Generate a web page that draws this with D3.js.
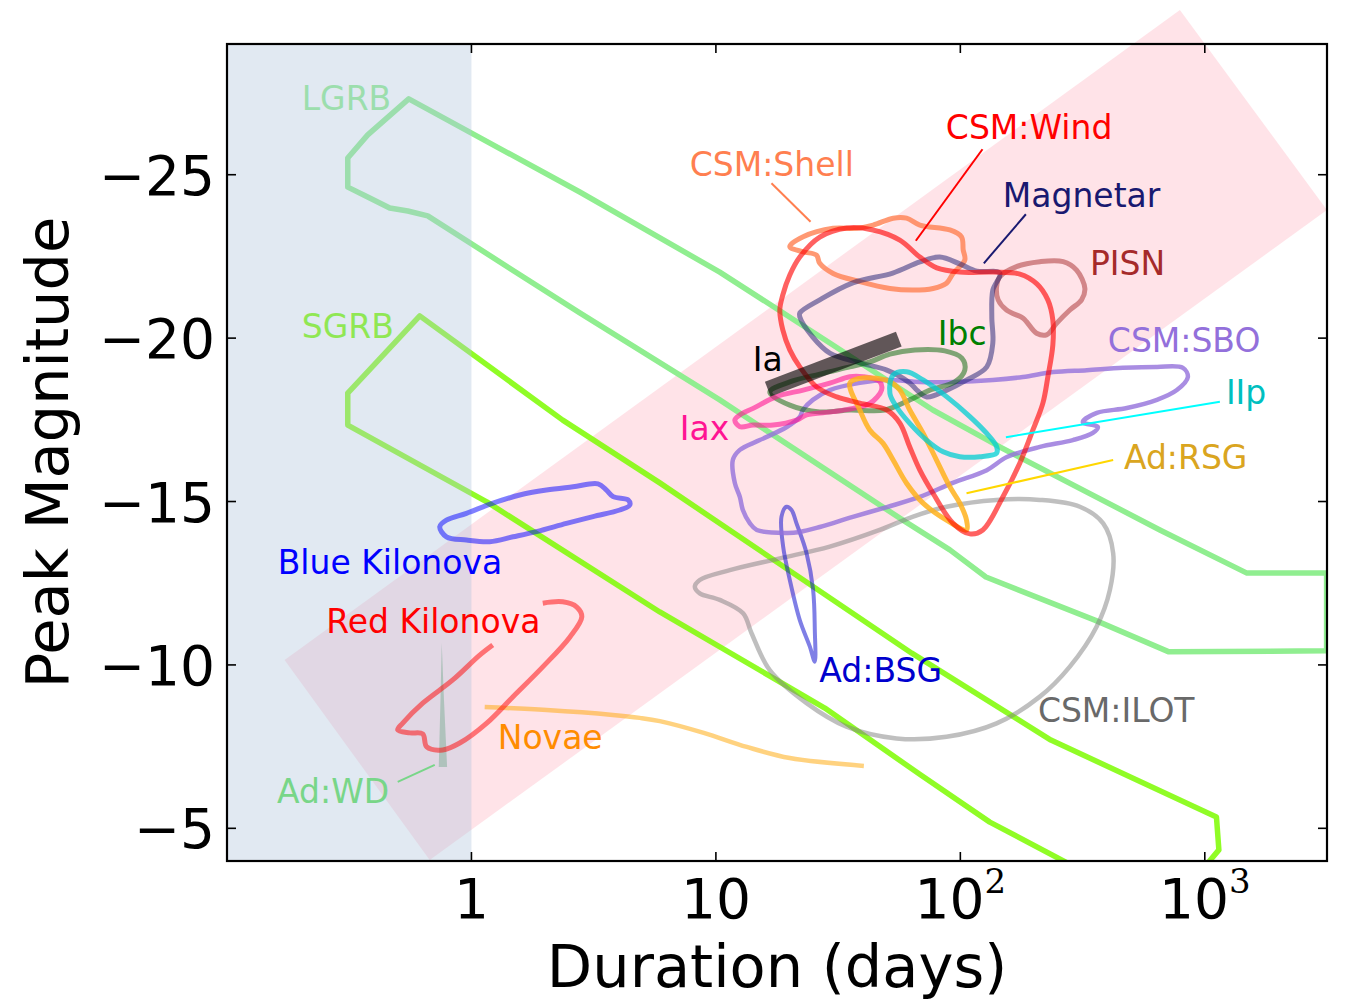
<!DOCTYPE html>
<html><head><meta charset="utf-8">
<script src="https://cdn.jsdelivr.net/npm/d3@7"></script>
<style>
body{margin:0;background:#fff}
svg{display:block}
text{font-family:"DejaVu Sans",sans-serif}
</style>
</head><body>
<svg id="c" width="1345" height="1000"></svg>
<script>
// ---------- axis data ----------
const xDomain = [0.1, 3162];
const yDomain = [-29, -4];
const xTicks = [1, 10, 100, 1000];
const xTickBase = ["1", "10", "10", "10"];
const xTickExp = ["", "", "2", "3"];
const yTicks = [-25, -20, -15, -10, -5];
const yTickLabels = ["\u221225", "\u221220", "\u221215", "\u221210", "\u22125"];

// ---------- regions ----------
const blueRegion = [0.1, 1];
const pinkBand = [[0.172,-10.15],[0.675,-4.03],[3160,-23.92],[791,-30.04]];

// ---------- contours: [duration (days), peak magnitude] ----------
const lgrb = [[0.554,-27.32],[2.774,-24.47],[10.37,-22.02],[29.24,-19.85],[77.2,-17.80],[145.1,-16.67],[655,-14.13],[1487,-12.81],[3150,-12.81],[3150,-10.43],[713,-10.40],[355,-11.37],[127.2,-12.69],[90.6,-13.52],[58.2,-14.43],[10.37,-18.11],[2.774,-20.77],[0.6625,-23.74],[0.549,-23.89],[0.4631,-23.98],[0.3764,-24.32],[0.3119,-24.62],[0.3119,-25.51],[0.3764,-26.22]];
const sgrb = [[0.6144,-20.68],[0.3119,-18.32],[0.3119,-17.34],[1.155,-14.99],[5.895,-11.62],[27.9,-8.68],[68.9,-6.63],[132,-5.19],[288.6,-3.85],[542.7,-1.89],[1030,-3.94],[1142,-4.34],[1116,-5.35],[234.6,-7.70],[63.3,-10.36],[5.895,-15.57],[2.363,-17.49]];
const csmShell = [[20.06,-22.80],[22.75,-23.10],[30.17,-23.36],[37.61,-23.36],[43.98,-23.46],[53.1,-23.67],[60.25,-23.67],[68.3,-23.46],[90.6,-23.31],[101.1,-23.10],[102.7,-22.70],[104.3,-22.39],[93.4,-21.98],[87.8,-21.68],[77.4,-21.52],[64.1,-21.47],[51.5,-21.52],[38.8,-21.73],[30.17,-21.98],[26.6,-22.29],[25.8,-22.54],[22.75,-22.64]];
const csmWind = [[20.06,-19.64],[18.78,-20.25],[18.26,-20.86],[18.78,-21.32],[20.06,-21.93],[22.04,-22.48],[26.6,-23.09],[34.32,-23.37],[43.9,-23.31],[56.55,-23.00],[68.3,-22.48],[80.1,-22.15],[99.5,-22.02],[135.8,-22.02],[175.2,-21.96],[205.6,-21.66],[228,-21.17],[239,-20.55],[239,-19.79],[228,-18.81],[217.6,-18.01],[198.1,-17.19],[175.2,-16.18],[149.2,-15.14],[123.6,-14.13],[109.4,-14.01],[93.2,-14.34],[77.2,-15.26],[68.3,-15.96],[62.1,-16.67],[56.55,-17.40],[50.05,-17.80],[38.8,-18.01],[31.24,-18.20],[25.87,-18.50],[22.04,-19.12]];
const magnetar = [[22.04,-20.77],[26.6,-21.17],[36.32,-21.69],[52.9,-21.99],[68.3,-22.33],[82.4,-22.48],[99.5,-22.27],[116.8,-22.05],[145.1,-21.99],[135.8,-21.47],[134.5,-20.65],[135.8,-19.85],[128.3,-19.12],[106.3,-18.72],[88.1,-18.41],[72.9,-18.20],[66.4,-18.41],[62.1,-18.63],[50.05,-19.02],[38.8,-19.24],[29.24,-19.54],[24.92,-20.03],[22.04,-20.65]];
const pisn = [[145.1,-21.88],[169.8,-22.19],[211.5,-22.34],[263.4,-22.34],[298.9,-22.08],[323.2,-21.52],[313.3,-21.17],[280.5,-20.86],[247.5,-20.45],[225.3,-20.10],[205,-20.15],[186.6,-20.50],[180.7,-20.61],[154.5,-20.86],[142.8,-21.17],[140.7,-21.57]];
const ibc = [[16.61,-18.35],[20.06,-17.95],[26.6,-17.74],[35.3,-17.80],[49.1,-17.80],[62.1,-18.11],[75.0,-18.41],[94.95,-18.66],[104.3,-19.02],[101.4,-19.39],[86.4,-19.61],[65.15,-19.64],[51.5,-19.51],[42.6,-19.27],[35.3,-19.12],[26.6,-18.90],[20.06,-18.66]];
const iaBar = [[16.3,-18.44],[56.0,-19.97]];
const iax = [[11.95,-17.49],[12.53,-17.29],[14.2,-17.34],[17.14,-17.34],[21.37,-17.49],[23.49,-17.65],[30.17,-17.75],[36.42,-17.85],[42.6,-18.00],[47.6,-18.41],[46.8,-18.67],[40.0,-18.82],[35.3,-18.82],[29.24,-18.62],[22.75,-18.41],[17.7,-18.21],[14.2,-17.85],[12.53,-17.65]];
const csmSbo = [[11.73,-16.27],[11.95,-15.57],[12.53,-15.14],[12.89,-14.74],[13.76,-14.34],[14.7,-14.13],[19.5,-14.04],[22.04,-14.07],[26.6,-14.22],[36.32,-14.53],[50.05,-14.83],[68.3,-15.14],[93.2,-15.57],[128.3,-15.96],[155,-16.36],[211.5,-16.67],[288.6,-16.88],[348.5,-17.10],[365.3,-17.28],[317.1,-17.43],[361.9,-17.71],[480,-17.86],[636.8,-18.11],[768.7,-18.41],[852.7,-18.81],[813.6,-19.09],[636.8,-19.12],[462.3,-19.09],[329.3,-19.02],[239,-18.96],[180.2,-18.81],[135.8,-18.72],[93.2,-18.66],[68.3,-18.66],[50.05,-18.72],[38.8,-18.63],[29.24,-18.41],[24.92,-18.11],[22.68,-17.80],[22.04,-17.59],[19.5,-17.28],[15.12,-16.88],[12.53,-16.58]];
const iip = [[53.1,-18.87],[60.25,-18.97],[70.4,-18.72],[87.8,-18.21],[109.4,-17.60],[128,-17.09],[140.7,-16.68],[140.7,-16.48],[120.2,-16.37],[99.5,-16.37],[85.05,-16.52],[72.7,-16.88],[62.1,-17.39],[54.8,-17.90],[51.5,-18.31]];
const adRsg = [[35.3,-18.62],[38.8,-17.80],[42.6,-17.19],[48.3,-16.78],[53.1,-16.27],[60.25,-15.56],[70.4,-14.95],[87.8,-14.43],[106.0,-14.13],[106.0,-14.43],[99.5,-14.95],[90.6,-15.45],[79.9,-16.27],[70.4,-17.09],[62.1,-17.80],[56.55,-18.41],[51.5,-18.67],[45.4,-18.77],[38.8,-18.77]];
const blueKilonova = [[0.7418,-14.23],[0.790,-14.43],[0.954,-14.64],[1.226,-14.95],[1.576,-15.20],[2.027,-15.35],[2.604,-15.45],[3.296,-15.54],[3.568,-15.35],[3.797,-15.15],[4.373,-15.05],[4.443,-14.89],[4.045,-14.74],[3.144,-14.54],[2.447,-14.33],[1.845,-14.08],[1.480,-13.92],[1.188,-13.77],[0.954,-13.82],[0.790,-13.92]];
const redKilonova = [[1.222,-10.61],[1.081,-10.30],[0.8386,-9.54],[0.632,-8.83],[0.5236,-8.22],[0.4993,-8.01],[0.5592,-7.92],[0.632,-7.89],[0.6564,-7.49],[0.7632,-7.40],[0.8957,-7.61],[1.155,-8.22],[1.476,-9.02],[1.958,-9.94],[2.525,-10.85],[2.828,-11.47],[2.697,-11.77],[2.363,-11.93],[1.958,-11.89]];
const novae = [[1.133,-8.71],[2.033,-8.62],[3.786,-8.47],[4.882,-8.38],[5.895,-8.28],[8.92,-7.92],[13.38,-7.49],[20.06,-7.15],[40.3,-6.91]];
const adBsg = [[19.45,-14.84],[18.55,-14.54],[18.84,-13.62],[20.06,-12.60],[22.04,-11.37],[24.23,-10.56],[25.39,-10.10],[25.39,-11.07],[24.99,-12.29],[23.49,-13.42],[21.37,-14.33],[20.39,-14.74]];
const csmIlot = [[8.2,-12.39],[8.59,-12.60],[11.40,-12.90],[18.26,-13.26],[29.24,-13.62],[46.8,-14.13],[64.1,-14.54],[87.8,-14.84],[140.7,-15.05],[211.5,-15.05],[308.3,-14.84],[384,-14.33],[421.9,-13.42],[409,-12.29],[360.9,-11.17],[280.5,-9.95],[211.5,-9.03],[140.7,-8.21],[87.8,-7.80],[54.8,-7.75],[34.22,-8.11],[23.49,-8.83],[16.61,-9.84],[13.99,-10.97],[12.92,-11.58],[10.37,-11.99],[8.59,-12.19]];
const adWd = [[0.7559,-10.67],[0.772,-8.93],[0.795,-6.88],[0.735,-6.88],[0.7470,-8.93]];

// ---------- leader lines ----------
const leaderShell = [[16.88,-24.74],[24.39,-23.56]];
const leaderWind = [[123.2,-25.78],[65.75,-22.98]];
const leaderMagnetar = [[185.4,-23.79],[124.8,-22.29]];
const leaderIIp = [[1153,-18.05],[153.6,-16.97]];
const leaderRsg = [[421.9,-16.27],[106.0,-15.25]];
const leaderWd = [[0.4993,-6.42],[0.7078,-6.94]];

// ---------- label texts & anchors ----------
const labelNames = ["LGRB","SGRB","CSM:Shell","CSM:Wind","Magnetar","PISN","Ibc","Ia","Iax","CSM:SBO","IIp","Ad:RSG","Blue Kilonova","Red Kilonova","Novae","Ad:WD","Ad:BSG","CSM:ILOT"];
const labelAnchors = [[0.2021,-26.97],[0.2021,-20.0],[7.82,-24.96],[87.24,-26.08],[149.2,-24.02],[338.8,-21.93],[80.9,-19.79],[14.16,-18.99],[7.117,-16.88],[401.3,-19.58],[1220,-17.98],[466.8,-15.98],[0.1612,-12.77],[0.2546,-10.98],[1.281,-7.44],[0.1603,-5.76],[26.5,-9.48],[207.6,-8.25]];

// ---------- layout & styles ----------
const M = {left:227, top:44, right:1327, bottom:861};
const x = d3.scaleLog().domain(xDomain).range([M.left, M.right]);
const y = d3.scaleLinear().domain(yDomain).range([M.top, M.bottom]);
const svg = d3.select("#c");

svg.append("defs").append("clipPath").attr("id","plot")
  .append("rect").attr("x",M.left).attr("y",M.top)
  .attr("width",M.right-M.left).attr("height",M.bottom-M.top);

const closedSmooth = d3.line().x(d=>x(d[0])).y(d=>y(d[1])).curve(d3.curveCatmullRomClosed.alpha(0.5));
const openSmooth = d3.line().x(d=>x(d[0])).y(d=>y(d[1])).curve(d3.curveCatmullRom.alpha(0.5));
const poly = d3.line().x(d=>x(d[0])).y(d=>y(d[1])).curve(d3.curveLinearClosed);
const seg = d3.line().x(d=>x(d[0])).y(d=>y(d[1]));

// pink band (not clipped)
svg.append("path").attr("d", poly(pinkBand)).attr("fill","#FFC0CB").attr("fill-opacity",0.45);

const plot = svg.append("g").attr("clip-path","url(#plot)");
const labelStyle = {
 "LGRB":"#90EE90","SGRB":"#7CFC00","CSM:Shell":"#FF7F50","CSM:Wind":"#FF0000","Magnetar":"#191970",
 "PISN":"#A52A2A","Ibc":"#008000","Ia":"#000000","Iax":"#FF1493","CSM:SBO":"#9370DB","IIp":"#00BFBF",
 "Ad:RSG":"#DAA520","Blue Kilonova":"#0000FF","Red Kilonova":"#FF0000","Novae":"#FF8C00","Ad:WD":"#78D688",
 "Ad:BSG":"#0000CD","CSM:ILOT":"#696969"};
function label(g, name){
  const i = labelNames.indexOf(name);
  g.append("text").attr("x", x(labelAnchors[i][0])).attr("y", y(labelAnchors[i][1]))
   .attr("font-size", 33).attr("fill", labelStyle[name]).text(name);
}

// GRB polygons (beneath the blue shading)
plot.append("path").attr("d", poly(lgrb)).attr("fill","none").attr("stroke","#90EE90").attr("stroke-width",5.5).attr("stroke-linejoin","round");
plot.append("path").attr("d", poly(sgrb)).attr("fill","none").attr("stroke","#7CFC00").attr("stroke-opacity",0.85).attr("stroke-width",5.5).attr("stroke-linejoin","round");
label(svg,"LGRB"); label(svg,"SGRB");

// blue region
svg.append("rect").attr("x", x(blueRegion[0])).attr("y", M.top)
  .attr("width", x(blueRegion[1]) - x(blueRegion[0])).attr("height", M.bottom-M.top)
  .attr("fill","#B0C4DE").attr("fill-opacity",0.38);

const g = svg.append("g").attr("clip-path","url(#plot)");
function contour(data, color, op, w, closed){
  g.append("path").attr("d", closed ? closedSmooth(data) : openSmooth(data))
   .attr("fill","none").attr("stroke",color).attr("stroke-opacity",op).attr("stroke-width",w)
   .attr("stroke-linejoin","round").attr("stroke-linecap","butt");
}
contour(csmIlot, "#808080", 0.5, 4.5, true);
contour(novae, "#FFA500", 0.5, 4.5, false);
g.append("path").attr("d", poly(adWd)).attr("fill","#2E8B57").attr("fill-opacity",0.28);
contour(redKilonova, "#FF0000", 0.5, 5, false);
contour(blueKilonova, "#0000FF", 0.5, 5, true);
contour(adBsg, "#0000CD", 0.5, 4, true);
contour(csmSbo, "#9370DB", 0.8, 4.5, true);
contour(csmShell, "#FF7F50", 0.8, 5, true);
contour(pisn, "#A52A2A", 0.5, 5, true);
contour(magnetar, "#191970", 0.5, 5, true);
contour(ibc, "#006400", 0.5, 5, true);
contour(iax, "#FF1493", 0.6, 5, true);
contour(adRsg, "#FFB21C", 0.85, 5, true);
contour(iip, "#00CED1", 0.75, 5, true);
contour(csmWind, "#FF0000", 0.62, 5, true);
g.append("path").attr("d", seg(iaBar)).attr("stroke","#000").attr("stroke-opacity",0.62).attr("stroke-width",16).attr("fill","none");

// leader lines
function leader(data, color){ g.append("path").attr("d", seg(data)).attr("stroke",color).attr("stroke-width",2).attr("fill","none"); }
leader(leaderShell, "#FF7F50");
leader(leaderWind, "#FF0000");
leader(leaderMagnetar, "#191970");
leader(leaderIIp, "#00FFFF");
leader(leaderRsg, "#FFD700");
leader(leaderWd, "#78D688");

labelNames.slice(2).forEach(n => label(svg, n));

// frame
svg.append("rect").attr("x",M.left).attr("y",M.top).attr("width",M.right-M.left).attr("height",M.bottom-M.top)
  .attr("fill","none").attr("stroke","#000").attr("stroke-width",2.2);

// ticks
const tk = svg.append("g").attr("stroke","#000").attr("stroke-width",1.6);
xTicks.forEach(t=>{
  tk.append("line").attr("x1",x(t)).attr("x2",x(t)).attr("y1",M.bottom).attr("y2",M.bottom-9);
  tk.append("line").attr("x1",x(t)).attr("x2",x(t)).attr("y1",M.top).attr("y2",M.top+9);
});
yTicks.forEach(t=>{
  tk.append("line").attr("x1",M.left).attr("x2",M.left+9).attr("y1",y(t)).attr("y2",y(t));
  tk.append("line").attr("x1",M.right).attr("x2",M.right-9).attr("y1",y(t)).attr("y2",y(t));
});

// tick labels
yTicks.forEach((t,i)=>{
  svg.append("text").attr("x",215).attr("y",y(t)+20).attr("text-anchor","end")
    .attr("font-size",55).attr("fill","#000").text(yTickLabels[i]);
});
xTicks.forEach((t,i)=>{
  const tx = svg.append("text").attr("x",x(t)).attr("y",918).attr("text-anchor","middle")
    .attr("font-size",55).attr("fill","#000");
  tx.append("tspan").text(xTickBase[i]);
  if (xTickExp[i]) tx.append("tspan").attr("dy",-25).attr("font-size",34)
    .attr("font-family","'DejaVu Serif',serif").text(xTickExp[i]);
});

// axis labels
svg.append("text").attr("x",(M.left+M.right)/2).attr("y",987).attr("text-anchor","middle")
  .attr("font-size",59).attr("fill","#000").text("Duration (days)");
svg.append("text").attr("transform",`translate(68,${(M.top+M.bottom)/2}) rotate(-90)`)
  .attr("text-anchor","middle").attr("font-size",59).attr("fill","#000").text("Peak Magnitude");
</script>
</body></html>
